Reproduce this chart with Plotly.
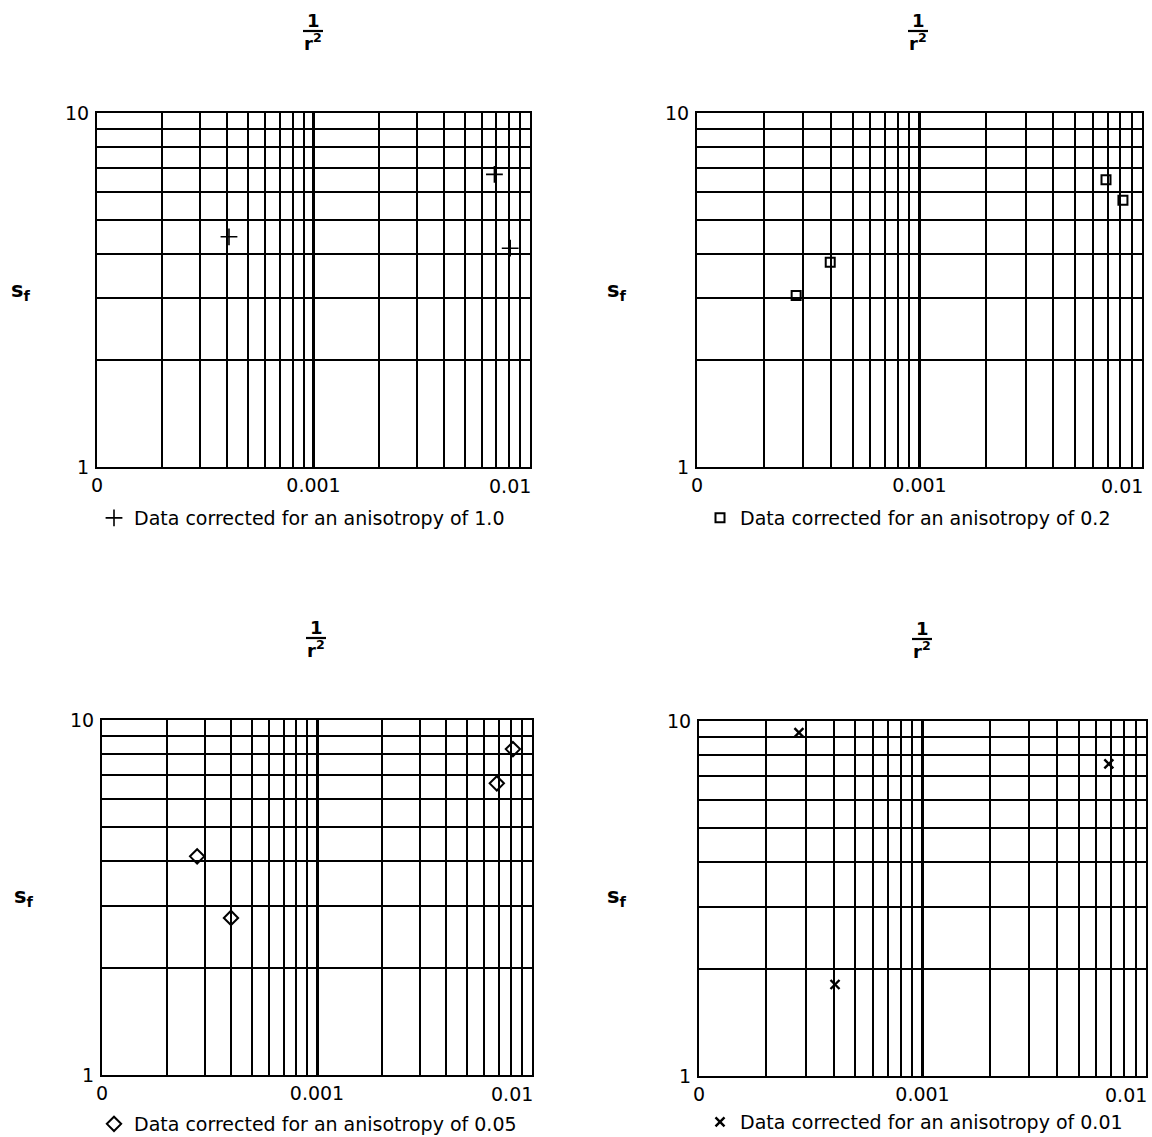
import plotly.graph_objects as go

W, H = 1152, 1137

# ---- data ----
inv_r2_a = [4.07e-4, 6.85e-3, 8.10e-3]
sf_a = [4.47, 6.71, 4.15]
inv_r2_b = [2.79e-4, 3.97e-4, 6.89e-3, 8.21e-3]
sf_b = [3.05, 3.79, 6.48, 5.67]
inv_r2_c = [2.77e-4, 3.98e-4, 6.86e-3, 8.15e-3]
sf_c = [4.13, 2.77, 6.63, 8.28]
inv_r2_d = [2.80e-4, 4.06e-4, 6.82e-3]
sf_d = [9.27, 1.81, 7.57]

series_names = [
    "Data corrected for an anisotropy of 1.0",
    "Data corrected for an anisotropy of 0.2",
    "Data corrected for an anisotropy of 0.05",
    "Data corrected for an anisotropy of 0.01",
]

x_tickvals = [1e-4, 1e-3]
x_ticktext = ["0", "0.001"]
x_end_label = "0.01"
x_end_value = 1e-2
x_minor = [k * 1e-4 for k in range(2, 10)] + [k * 1e-3 for k in range(2, 10)]
y_tickvals = [1, 10]
y_ticktext = ["1", "10"]
y_minor = [2, 3, 4, 5, 6, 7, 8, 9]

FONT = "DejaVu Sans"

# panel pixel boxes: (left, right, top, bottom)
boxes = [
    (97, 530, 113, 467),
    (697, 1142, 113, 467),
    (102, 532, 720, 1075),
    (699, 1146, 721, 1076),
]
legend_pos = [(94, 518), (700, 518), (94, 1124), (700, 1122)]
title_pos = [(313, 20), (918, 20), (316, 627), (922, 628)]
ylab_pos = [(21, 291), (617, 291), (24, 897), (617, 897)]
end_shift = [3, 3, 3, 3]

markers = [
    dict(symbol="cross-thin", size=12, line=dict(width=1.6, color="black"), color="black"),
    dict(symbol="square-open", size=9, line=dict(width=2, color="black"), color="black"),
    dict(symbol="diamond-open", size=11, line=dict(width=2, color="black"), color="black"),
    dict(symbol="x-thin", size=9, line=dict(width=2.4, color="black"), color="black"),
]

xs = [inv_r2_a, inv_r2_b, inv_r2_c, inv_r2_d]
ys = [sf_a, sf_b, sf_c, sf_d]

fig = go.Figure()
layout = dict(
    width=W, height=H,
    margin=dict(l=0, r=0, t=0, b=0, autoexpand=False),
    paper_bgcolor="white", plot_bgcolor="white",
    font=dict(family=FONT, size=19, color="black"),
    showlegend=True,
)
annotations = []
shapes = []

for i in range(4):
    n = "" if i == 0 else str(i + 1)
    L, R, T, B = boxes[i]
    legname = "legend" if i == 0 else f"legend{i+1}"
    fig.add_trace(go.Scatter(
        x=xs[i], y=ys[i], mode="markers", marker=markers[i],
        name=series_names[i], xaxis="x" + n, yaxis="y" + n,
        legend=legname, showlegend=True,
    ))
    layout["xaxis" + n] = dict(
        type="log", range=[-4, -2], domain=[L / W, R / W],
        anchor="y" + n, automargin=False,
        tickmode="array", tickvals=x_tickvals, ticktext=x_ticktext,
        ticks="", showgrid=True, gridcolor="black", gridwidth=2.6,
        minor=dict(tickvals=x_minor, showgrid=True, gridcolor="black", gridwidth=1.5, ticks=""),
        showline=True, linecolor="black", linewidth=2.2, mirror=True,
        zeroline=False, tickfont=dict(size=19, family=FONT),
        ticklabeloverflow="allow",
    )
    layout["yaxis" + n] = dict(
        type="log", range=[0, 1], domain=[1 - B / H, 1 - T / H],
        anchor="x" + n, automargin=False,
        tickmode="array", tickvals=y_tickvals, ticktext=y_ticktext,
        ticks="", showgrid=True, gridcolor="black", gridwidth=1.5,
        minor=dict(tickvals=y_minor, showgrid=True, gridcolor="black", gridwidth=1.5, ticks=""),
        showline=True, linecolor="black", linewidth=2.2, mirror=True,
        zeroline=False, tickfont=dict(size=19, family=FONT), ticklabelstandoff=2,
    )
    # end-of-axis tick label, right-aligned to the frame as in the reference
    annotations.append(dict(
        text=x_end_label, xref="x" + n, yref=f"y{n} domain",
        x=-2 if x_end_value == 1e-2 else 0, y=0, xanchor="right", yanchor="top",
        xshift=end_shift[i], yshift=-6, showarrow=False,
        font=dict(size=19, family=FONT),
    ))
    lx, ly = legend_pos[i]
    layout[legname] = dict(
        x=lx / W, y=1 - ly / H, xanchor="left", yanchor="middle",
        bgcolor="rgba(0,0,0,0)", borderwidth=0,
        font=dict(size=19, family=FONT), itemwidth=30,
    )
    tx, ty = title_pos[i]
    annotations.append(dict(
        text="<b>1</b>", x=tx / W, y=1 - ty / H, xref="paper", yref="paper",
        showarrow=False, font=dict(size=18, family=FONT), xanchor="center", yanchor="middle",
    ))
    annotations.append(dict(
        text="<b>r<sup>2</sup></b>", x=tx / W, y=1 - (ty + 22) / H, xref="paper", yref="paper",
        showarrow=False, font=dict(size=18, family=FONT), xanchor="center", yanchor="middle",
    ))
    shapes.append(dict(
        type="line", xref="paper", yref="paper",
        x0=(tx - 10) / W, x1=(tx + 10) / W, y0=1 - (ty + 11) / H, y1=1 - (ty + 11) / H,
        line=dict(color="black", width=2.2),
    ))
    sx, sy = ylab_pos[i]
    annotations.append(dict(
        text="<b>s<sub>f</sub></b>", x=sx / W, y=1 - sy / H, xref="paper", yref="paper",
        showarrow=False, font=dict(size=21, family=FONT), xanchor="center", yanchor="middle",
    ))

layout["annotations"] = annotations
layout["shapes"] = shapes
fig.update_layout(**layout)
fig.write_html(
    "out.html",
    config={"displayModeBar": False},
    post_script="document.body.style.margin='0';document.body.style.overflow='hidden';",
)
